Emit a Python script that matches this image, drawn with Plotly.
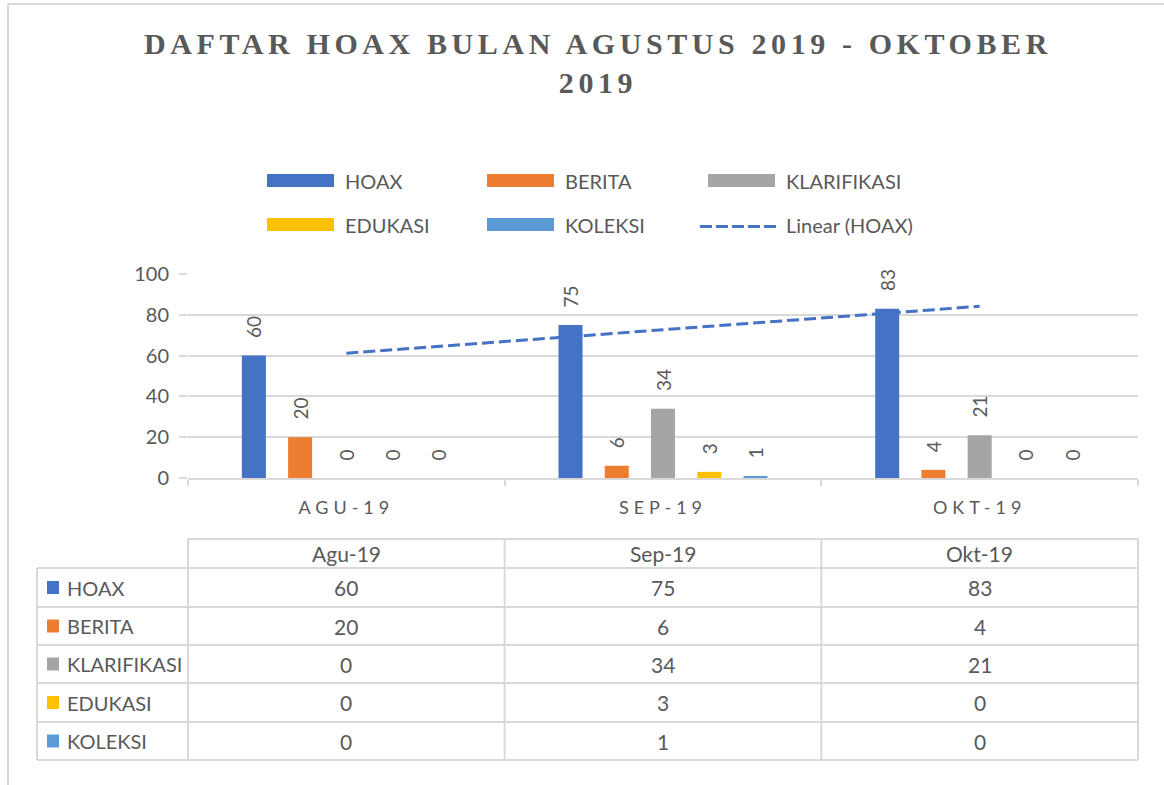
import numpy as np
import plotly.graph_objects as go

# ---------------- data ----------------
categories = ["Agu-19", "Sep-19", "Okt-19"]
series_names = ["HOAX", "BERITA", "KLARIFIKASI", "EDUKASI", "KOLEKSI"]
hoax = [60, 75, 83]
berita = [20, 6, 4]
klarifikasi = [0, 34, 21]
edukasi = [0, 3, 0]
koleksi = [0, 1, 0]
series_values = [hoax, berita, klarifikasi, edukasi, koleksi]
series_colors = ["#4472C4", "#ED7D31", "#A5A5A5", "#FFC000", "#5B9BD5"]
trend_name = "Linear (HOAX)"
title_line1 = "DAFTAR HOAX BULAN AGUSTUS 2019 - OKTOBER"
title_line2 = "2019"
y_ticks = [0, 20, 40, 60, 80, 100]

# ---------------- layout constants ----------------
W, H = 1164, 785
L, R, T, B = 188, 26, 274, 307
PW, PH = W - L - R, H - T - B
GRID = "#D9D9D9"
TXT = "#595959"
FONT = "Lato"
NBSP = "\u00a0"


def px(x):
    return (x - L) / PW


def py(y):
    return (H - B - y) / PH


fig = go.Figure()

for name, vals, col in zip(series_names, series_values, series_colors):
    fig.add_trace(go.Bar(
        x=categories, y=vals, name=name, marker=dict(color=col, line=dict(width=0)),
        text=[NBSP * 3 + str(v) for v in vals], textposition="outside", textangle=-90,
        textfont=dict(family=FONT, size=19, color=TXT), constraintext="none",
        cliponaxis=False, showlegend=False,
    ))

# linear trendline of HOAX
xi = np.arange(1, len(hoax) + 1)
coef = np.polyfit(xi, hoax, 1)
trend = np.polyval(coef, xi)
fig.add_trace(go.Scatter(
    x=categories, y=trend, mode="lines", name=trend_name,
    line=dict(color=series_colors[0], width=3, dash="12px,5px"), showlegend=False,
))

shapes = []
annotations = []

# ---------- manual legend (Excel style wide swatches) ----------
sw_x = [267, 487, 708]
row_y = [180.5, 224.5]
legend_items = list(zip(series_names, series_colors)) + [(trend_name, None)]
for i, (nm, col) in enumerate(legend_items):
    r, c = divmod(i, 3)
    x0 = sw_x[c]
    yc = row_y[r]
    if col is not None:
        shapes.append(dict(type="rect", xref="paper", yref="paper",
                           x0=px(x0), x1=px(x0 + 67), y0=py(yc - 6.5), y1=py(yc + 6.5),
                           fillcolor=col, line=dict(width=0)))
    else:
        shapes.append(dict(type="line", xref="paper", yref="paper",
                           x0=px(x0 - 8), x1=px(x0 + 69), y0=py(yc + 2), y1=py(yc + 2),
                           line=dict(color=series_colors[0], width=3, dash="12px,4px")))
    annotations.append(dict(text=nm, xref="paper", yref="paper", x=px(x0 + 76), y=py(yc),
                            xanchor="left", yanchor="middle", showarrow=False,
                            font=dict(family=FONT, size=20, color=TXT)))

# ---------- data table ----------
ncat = len(categories)
col_edges = [L + PW * k / ncat for k in range(ncat + 1)]
label_left = 37
row_edges = [539, 568, 607, 645, 683, 722, 760]
line_style = dict(color=GRID, width=2)
shapes.append(dict(type="line", xref="paper", yref="paper", x0=px(col_edges[0]), x1=px(col_edges[-1]),
                   y0=py(row_edges[0]), y1=py(row_edges[0]), line=line_style))
for ry in row_edges[1:]:
    shapes.append(dict(type="line", xref="paper", yref="paper", x0=px(label_left), x1=px(col_edges[-1]),
                       y0=py(ry), y1=py(ry), line=line_style))
shapes.append(dict(type="line", xref="paper", yref="paper", x0=px(label_left), x1=px(label_left),
                   y0=py(row_edges[1]), y1=py(row_edges[-1]), line=line_style))
for cx in col_edges:
    shapes.append(dict(type="line", xref="paper", yref="paper", x0=px(cx), x1=px(cx),
                       y0=py(row_edges[0]), y1=py(row_edges[-1]), line=line_style))
for k, cat in enumerate(categories):
    annotations.append(dict(text=cat, xref="paper", yref="paper",
                            x=px((col_edges[k] + col_edges[k + 1]) / 2),
                            y=py((row_edges[0] + row_edges[1]) / 2),
                            xanchor="center", yanchor="middle", showarrow=False,
                            font=dict(family=FONT, size=21, color=TXT)))
for j, (nm, vals, col) in enumerate(zip(series_names, series_values, series_colors)):
    yc = (row_edges[j + 1] + row_edges[j + 2]) / 2
    shapes.append(dict(type="rect", xref="paper", yref="paper",
                       x0=px(47), x1=px(59), y0=py(yc - 6.5), y1=py(yc + 6.5),
                       fillcolor=col, line=dict(width=0)))
    annotations.append(dict(text=nm, xref="paper", yref="paper", x=px(65), y=py(yc),
                            xanchor="left", yanchor="middle", showarrow=False,
                            font=dict(family=FONT, size=20, color=TXT)))
    for k, v in enumerate(vals):
        annotations.append(dict(text=str(v), xref="paper", yref="paper",
                                x=px((col_edges[k] + col_edges[k + 1]) / 2), y=py(yc),
                                xanchor="center", yanchor="middle", showarrow=False,
                                font=dict(family=FONT, size=21, color=TXT)))

# chart area border (left and top edges visible)
shapes.append(dict(type="line", xref="paper", yref="paper", x0=px(8), x1=px(8), y0=py(4), y1=py(H + 5),
                   line=dict(color=GRID, width=2)))
shapes.append(dict(type="line", xref="paper", yref="paper", x0=px(8), x1=px(W + 5), y0=py(4), y1=py(4),
                   line=dict(color=GRID, width=2)))

ls = "letter-spacing:4.6px"
title_text = f"<span style='{ls}'>{title_line1}</span><br><span style='{ls}'>{title_line2}</span>"

fig.update_layout(
    width=W, height=H,
    margin=dict(l=L, r=R, t=T, b=B, pad=0),
    paper_bgcolor="white", plot_bgcolor="white",
    font=dict(family=FONT, color=TXT),
    barmode="group", bargap=0.27, bargroupgap=0.48,
    showlegend=False,
    title=dict(text=title_text, xref="container", yref="container",
               x=598 / W, xanchor="center", y=1 - 54 / H, yanchor="top",
               font=dict(family="Liberation Serif", size=30, color=TXT, weight="bold")),
    shapes=shapes, annotations=annotations,
)
fig.update_xaxes(
    type="category", tickmode="array", tickvals=categories,
    ticktext=[f"<span style='letter-spacing:5px'>{c.upper()}</span>" for c in categories],
    tickson="boundaries", ticks="outside", ticklen=6, tickwidth=2, tickcolor=GRID,
    showline=True, linecolor=GRID, linewidth=2, showgrid=False, ticklabelstandoff=12,
    tickfont=dict(family=FONT, size=18, color=TXT), fixedrange=True,
)
fig.update_yaxes(
    range=[0, 100], tickmode="array", tickvals=y_ticks,
    showgrid=True, gridcolor=GRID, gridwidth=2, zeroline=False, showline=False,
    ticks="outside", ticklen=8, tickwidth=2, tickcolor=GRID, ticklabelstandoff=6,
    tickfont=dict(family=FONT, size=20, color=TXT), fixedrange=True,
)

fig.write_html("out.html", config={"displayModeBar": False},
               post_script="document.body.style.margin='0';document.body.style.overflow='hidden';")
